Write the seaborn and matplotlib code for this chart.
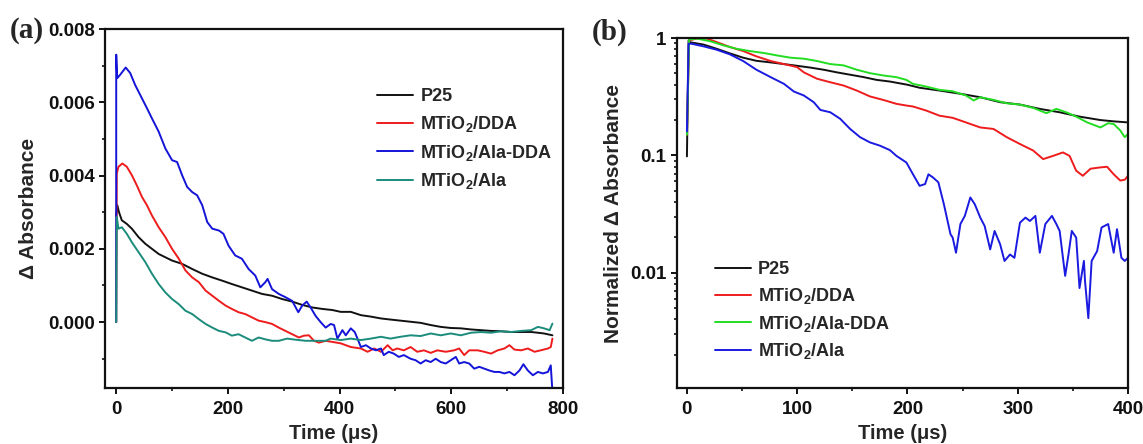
import matplotlib
matplotlib.use("Agg")
import matplotlib.pyplot as plt
from matplotlib.ticker import (MultipleLocator, FormatStrFormatter, LogLocator,
                               NullFormatter, FixedLocator, FuncFormatter)
import pandas as pd
import seaborn as sns

# ---------------- (a) transient absorption decays, (time µs, ΔA) ----------------
labels_a = ["P25", "MTiO$_2$/DDA", "MTiO$_2$/Ala-DDA", "MTiO$_2$/Ala"]
colors_a = ["#111111", "#ee1c1c", "#1414d8", "#1b8c7c"]

p25_a = [(0, 0.0029), (2, 0.00319), (5, 0.0030), (10, 0.00278), (19, 0.00268), (28, 0.00255),
         (40, 0.00232), (52, 0.00214), (64, 0.0020), (76, 0.00186), (88, 0.00177), (100, 0.00168),
         (118, 0.00159), (136, 0.00145), (154, 0.00132), (172, 0.00122), (190, 0.00113),
         (207, 0.00104), (225, 0.00095), (243, 0.00086), (261, 0.00077), (279, 0.00072),
         (297, 0.00063), (315, 0.00056), (333, 0.00047), (351, 0.0004), (369, 0.00036),
         (387, 0.00033), (402, 0.00028), (420, 0.00028), (438, 0.00019), (456, 0.00015),
         (474, 0.0001), (491, 0.00007), (509, 0.00004), (527, 0.00001), (545, -0.00002),
         (563, -0.00008), (581, -0.00013), (599, -0.00016), (617, -0.00017), (635, -0.0002),
         (653, -0.00022), (671, -0.00024), (689, -0.00025), (707, -0.00027), (725, -0.00027),
         (743, -0.00027), (755, -0.00029), (766, -0.00031), (781, -0.00036)]

dda_a = [(0, 0.0), (1, 0.00405), (4, 0.00424), (11, 0.00433), (19, 0.00424), (28, 0.00401),
         (37, 0.00373), (46, 0.00342), (55, 0.00319), (64, 0.00291), (76, 0.00259), (88, 0.00232),
         (100, 0.0020), (112, 0.00173), (124, 0.00141), (136, 0.00122), (148, 0.00109),
         (160, 0.00086), (172, 0.00072), (184, 0.00058), (196, 0.00045), (207, 0.00036),
         (219, 0.00027), (231, 0.00022), (243, 0.00013), (255, 0.00004), (267, 0.0),
         (279, -0.00005), (291, -0.00015), (303, -0.00024), (315, -0.00033), (327, -0.00042),
         (336, -0.00037), (345, -0.00036), (354, -0.00051), (363, -0.00056), (375, -0.00051),
         (387, -0.00054), (402, -0.00058), (420, -0.00068), (438, -0.00072), (450, -0.00081),
         (462, -0.00072), (474, -0.00081), (486, -0.00063), (495, -0.00077), (503, -0.00072),
         (515, -0.00077), (527, -0.00068), (539, -0.00081), (551, -0.00077), (563, -0.00084),
         (575, -0.00077), (590, -0.00081), (605, -0.00077), (614, -0.00072), (623, -0.0009),
         (632, -0.00077), (647, -0.00077), (659, -0.00081), (671, -0.00086), (683, -0.00077),
         (695, -0.00072), (704, -0.00063), (713, -0.00075), (725, -0.00077), (737, -0.00072),
         (749, -0.00081), (760, -0.00077), (773, -0.00072), (778, -0.00068), (781, -0.00045)]

ala_dda_a = [(0, 0.0), (0, 0.0073), (1.8, 0.00666), (7, 0.00675), (17, 0.00695), (25, 0.0068),
             (34, 0.00647), (46, 0.00611), (55, 0.00584), (64, 0.00556), (76, 0.0052),
             (88, 0.00474), (100, 0.00442), (109, 0.00437), (118, 0.00401), (127, 0.00369),
             (136, 0.00355), (145, 0.00346), (154, 0.00319), (163, 0.00273), (172, 0.00255),
             (184, 0.0025), (192, 0.00241), (201, 0.00209), (213, 0.00182), (225, 0.00173),
             (237, 0.00145), (249, 0.00127), (258, 0.00095), (267, 0.00109), (271, 0.00118),
             (279, 0.0009), (291, 0.00077), (303, 0.00068), (315, 0.00058), (326, 0.00027),
             (333, 0.00045), (341, 0.00056), (348, 0.0004), (357, 0.00017), (366, 0.0),
             (375, -0.00015), (384, -0.00005), (390, -0.00008), (396, -0.00045), (405, -0.00022),
             (411, -0.00036), (420, -0.00017), (427, -0.00027), (432, -0.00045), (438, -0.00068),
             (447, -0.00063), (456, -0.00072), (465, -0.00077), (474, -0.00072), (479, -0.0009),
             (488, -0.00081), (497, -0.00086), (506, -0.00095), (515, -0.0009), (527, -0.001),
             (536, -0.00104), (545, -0.00113), (554, -0.00104), (563, -0.00109), (572, -0.001),
             (581, -0.00109), (590, -0.00113), (599, -0.00104), (608, -0.00095), (614, -0.00113),
             (623, -0.00109), (632, -0.00113), (641, -0.00127), (650, -0.00122), (659, -0.00127),
             (668, -0.00132), (677, -0.00136), (686, -0.00136), (695, -0.0014), (704, -0.00136),
             (713, -0.00145), (722, -0.00132), (729, -0.00115), (737, -0.00132), (746, -0.00145),
             (755, -0.00136), (764, -0.0014), (773, -0.00136), (778, -0.00118), (781, -0.0019)]

ala_a = [(0, 0.0), (1, 0.00287), (4, 0.00255), (10, 0.00259), (19, 0.00241), (28, 0.00218),
         (40, 0.00191), (52, 0.00164), (64, 0.00132), (76, 0.00104), (88, 0.00081), (100, 0.00063),
         (112, 0.00049), (124, 0.00031), (136, 0.00022), (148, 0.00008), (160, -0.00005),
         (172, -0.00015), (184, -0.00024), (196, -0.00028), (207, -0.00037), (219, -0.00033),
         (231, -0.00042), (243, -0.00051), (255, -0.00042), (267, -0.00047), (279, -0.00051),
         (291, -0.00051), (306, -0.00045), (321, -0.00048), (339, -0.00051), (357, -0.00051),
         (375, -0.00051), (384, -0.00045), (402, -0.00049), (420, -0.00045), (438, -0.00049),
         (456, -0.00045), (474, -0.0004), (491, -0.00045), (509, -0.0004), (527, -0.00036),
         (545, -0.00038), (563, -0.00031), (581, -0.00036), (599, -0.00031), (617, -0.00036),
         (635, -0.00029), (653, -0.00027), (671, -0.00029), (689, -0.00025), (707, -0.00027),
         (725, -0.00024), (743, -0.00022), (755, -0.00013), (766, -0.00017), (776, -0.00022),
         (781, -0.00004)]

# ---------------- (b) normalised decays on a log scale ----------------
labels_b = ["P25", "MTiO$_2$/DDA", "MTiO$_2$/Ala-DDA", "MTiO$_2$/Ala"]
colors_b = ["#111111", "#ee1c1c", "#22dd22", "#1a1ae0"]

p25_b = [(0, 0.098), (1.5, 0.955), (3, 0.92), (15, 0.88), (27, 0.81), (39, 0.74), (51, 0.68),
         (63, 0.64), (76, 0.62), (88, 0.60), (100, 0.58), (112, 0.56), (124, 0.537), (136, 0.51),
         (148, 0.487), (160, 0.465), (172, 0.44), (184, 0.426), (200, 0.40), (211, 0.377),
         (229, 0.357), (248, 0.335), (266, 0.313), (284, 0.284), (302, 0.271), (320, 0.249),
         (338, 0.233), (356, 0.214), (375, 0.20), (387, 0.195), (400, 0.191)]

dda_b = [(0, 0.15), (2, 0.955), (9, 0.99), (18, 0.99), (27, 0.924), (39, 0.838), (51, 0.775),
         (63, 0.698), (76, 0.637), (88, 0.60), (100, 0.565), (106, 0.51), (118, 0.45),
         (130, 0.42), (142, 0.394), (154, 0.357), (166, 0.318), (178, 0.297), (190, 0.275),
         (199, 0.266), (205, 0.261), (217, 0.241), (229, 0.218), (241, 0.209), (253, 0.191),
         (266, 0.173), (278, 0.168), (290, 0.143), (302, 0.125), (314, 0.11), (323, 0.093),
         (332, 0.099), (341, 0.106), (347, 0.099), (353, 0.074), (359, 0.067), (366, 0.077),
         (375, 0.079), (381, 0.08), (387, 0.069), (393, 0.061), (397, 0.062), (400, 0.067)]

ala_dda_b = [(0, 0.15), (2, 0.97), (9, 0.99), (21, 0.94), (33, 0.867), (45, 0.81), (57, 0.775),
             (70, 0.745), (82, 0.71), (94, 0.68), (106, 0.667), (118, 0.637), (130, 0.60),
             (142, 0.585), (154, 0.537), (166, 0.502), (178, 0.48), (190, 0.464), (199, 0.44),
             (205, 0.407), (217, 0.386), (229, 0.362), (241, 0.352), (253, 0.324), (260, 0.294),
             (266, 0.313), (278, 0.297), (290, 0.278), (302, 0.271), (314, 0.254), (326, 0.229),
             (335, 0.249), (344, 0.233), (353, 0.214), (363, 0.191), (375, 0.173), (382, 0.188),
             (387, 0.185), (393, 0.163), (397, 0.143), (400, 0.152)]

ala_b = [(0, 0.16), (1.5, 0.895), (4, 0.895), (15, 0.85), (27, 0.795), (39, 0.726), (51, 0.637),
         (63, 0.537), (76, 0.464), (88, 0.407), (97, 0.35), (106, 0.324), (115, 0.284),
         (121, 0.244), (130, 0.233), (139, 0.205), (148, 0.168), (157, 0.143), (166, 0.129),
         (175, 0.121), (184, 0.111), (190, 0.099), (199, 0.087), (205, 0.069), (211, 0.055),
         (216, 0.057), (219, 0.069), (223, 0.065), (228, 0.059), (233, 0.0384), (239, 0.0213),
         (241, 0.0199), (244, 0.0148), (248, 0.026), (252, 0.0305), (257, 0.0438), (261, 0.0384),
         (266, 0.0295), (270, 0.025), (275, 0.0158), (279, 0.0227), (284, 0.0175), (288, 0.0126),
         (293, 0.0143), (297, 0.0134), (302, 0.0267), (307, 0.0295), (311, 0.0276), (316, 0.0305),
         (320, 0.0148), (325, 0.026), (331, 0.0305), (335, 0.026), (338, 0.0227), (343, 0.0094),
         (346, 0.0143), (349, 0.0227), (353, 0.0199), (356, 0.0074), (360, 0.0126), (361, 0.0085),
         (364, 0.0041), (367, 0.0126), (372, 0.0153), (376, 0.0243), (382, 0.026), (387, 0.0148),
         (390, 0.0235), (394, 0.0134), (397, 0.0126), (400, 0.0134)]


def long_frame(series, labels):
    rows = []
    for name, pts in zip(labels, series):
        for t, v in pts:
            rows.append({"series": name, "t": t, "v": v})
    return pd.DataFrame(rows)


df_a = long_frame([p25_a, dda_a, ala_dda_a, ala_a], labels_a)
df_b = long_frame([p25_b, dda_b, ala_dda_b, ala_b], labels_b)

sns.set_style("ticks")
plt.rcParams.update({
    "font.family": ["Liberation Sans", "DejaVu Sans"],
    "font.weight": "bold",
    "axes.labelweight": "bold",
    "mathtext.fontset": "custom",
    "mathtext.rm": "Liberation Sans:bold",
    "mathtext.it": "Liberation Sans:bold",
    "mathtext.bf": "Liberation Sans:bold",
    "mathtext.default": "rm",
    "axes.linewidth": 1.6,
    "axes.edgecolor": "#111111",
    "xtick.major.width": 1.4, "ytick.major.width": 1.4,
    "xtick.minor.width": 1.2, "ytick.minor.width": 1.2,
    "xtick.major.size": 4.5, "ytick.major.size": 4.5,
    "xtick.minor.size": 2.5, "ytick.minor.size": 2.5,
    "xtick.direction": "out", "ytick.direction": "out",
    "xtick.color": "#111111", "ytick.color": "#111111",
})

fig = plt.figure(figsize=(11.43, 4.44), dpi=100)
ax_a = fig.add_axes([0.0919, 0.126, 0.4007, 0.8086])
ax_b = fig.add_axes([0.5923, 0.126, 0.3946, 0.7883])

sns.lineplot(data=df_a, x="t", y="v", hue="series", hue_order=labels_a, palette=colors_a,
             estimator=None, sort=False, linewidth=1.4, ax=ax_a)
sns.lineplot(data=df_b, x="t", y="v", hue="series", hue_order=labels_b, palette=colors_b,
             estimator=None, sort=False, linewidth=1.4, ax=ax_b)

# panel (a) axes
ax_a.set_xlim(-20, 800)
ax_a.set_ylim(-0.0018, 0.008)
ax_a.xaxis.set_major_locator(MultipleLocator(200))
ax_a.xaxis.set_minor_locator(MultipleLocator(100))
ax_a.yaxis.set_major_locator(MultipleLocator(0.002))
ax_a.yaxis.set_minor_locator(MultipleLocator(0.001))
ax_a.yaxis.set_major_formatter(FormatStrFormatter("%.3f"))
ax_a.set_xlabel("Time (\u03bcs)", fontsize=14.5, labelpad=4)
ax_a.set_ylabel("\u0394 Absorbance", fontsize=15, labelpad=7)

# panel (b) axes
ax_b.set_yscale("log")
ax_b.set_xlim(-9, 400)
ax_b.set_ylim(0.00104, 1.0)
ax_b.xaxis.set_major_locator(MultipleLocator(100))
ax_b.xaxis.set_minor_locator(MultipleLocator(50))
ax_b.yaxis.set_major_locator(FixedLocator([0.01, 0.1, 1.0]))
ax_b.yaxis.set_major_formatter(FuncFormatter(lambda v, p: f"{v:g}"))
ax_b.yaxis.set_minor_locator(LogLocator(base=10, subs=range(2, 10), numticks=20))
ax_b.yaxis.set_minor_formatter(NullFormatter())
ax_b.set_xlabel("Time (\u03bcs)", fontsize=14.5, labelpad=4)
ax_b.set_ylabel("Normalized \u0394 Absorbance", fontsize=15, labelpad=5)

for ax in (ax_a, ax_b):
    ax.tick_params(which="both", top=False, right=False, labelsize=13.5)
    ax.tick_params(axis="x", pad=5)
    ax.tick_params(axis="y", pad=3)
    for lab in ax.get_xticklabels() + ax.get_yticklabels():
        lab.set_fontweight("bold")
    for side in ("top", "right", "left", "bottom"):
        ax.spines[side].set_visible(True)
        ax.spines[side].set_linewidth(1.6)

leg_kw = dict(frameon=False, handlelength=2.0, handletextpad=0.4,
              borderaxespad=0.0, borderpad=0.0,
              prop={"weight": "bold", "size": 13})
h, l = ax_a.get_legend_handles_labels()
ax_a.legend(h, l, loc="upper left", bbox_to_anchor=(0.594, 0.835), labelspacing=0.48, **leg_kw)
h, l = ax_b.get_legend_handles_labels()
ax_b.legend(h, l, loc="upper left", bbox_to_anchor=(0.084, 0.362), labelspacing=0.42, **leg_kw)

fig.text(10 / 1143, 1 - 30 / 444, "(a)", fontsize=21, fontweight="bold",
         family=["Liberation Serif", "DejaVu Serif"], ha="left", va="center")
fig.text(592 / 1143, 1 - 32 / 444, "(b)", fontsize=21, fontweight="bold",
         family=["Liberation Serif", "DejaVu Serif"], ha="left", va="center")

fig.savefig("out.png", dpi=100)
